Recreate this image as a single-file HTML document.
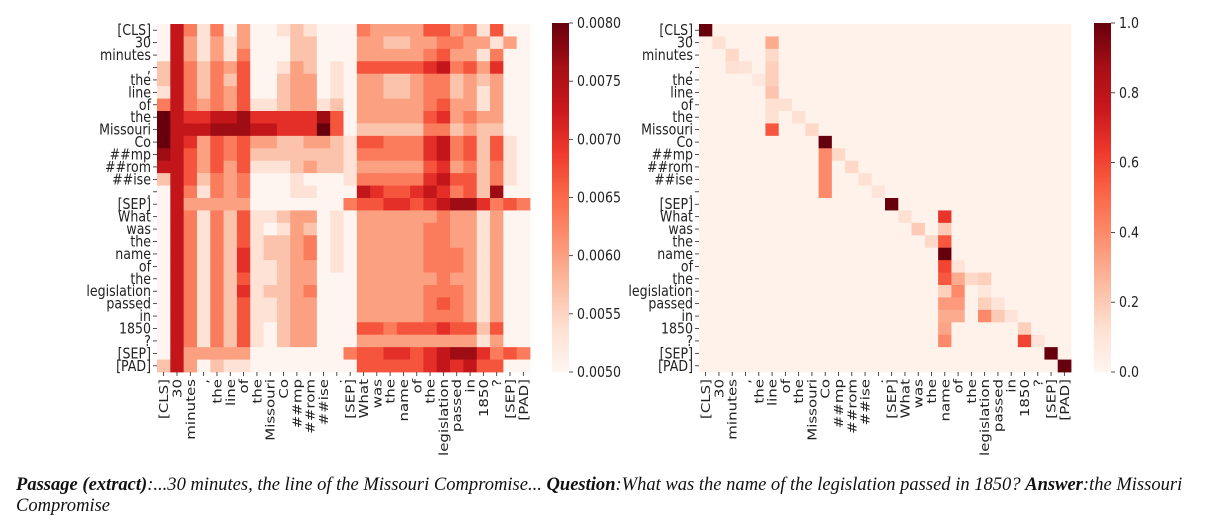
<!DOCTYPE html>
<html><head><meta charset="utf-8"><style>
body{margin:0;background:#fff;width:1211px;height:526px;overflow:hidden}
svg text{font-family:"DejaVu Sans","Liberation Sans",sans-serif;font-size:15px;fill:#222}
.cap{position:absolute;left:16px;top:474px;width:1190px;font-family:"Liberation Serif",serif;font-style:italic;font-size:18.55px;line-height:21px;color:#111}
</style></head><body>
<svg id="chart" width="1211" height="470" style="position:absolute;left:0;top:0">
<defs><linearGradient id="reds" x1="0" y1="1" x2="0" y2="0">
<stop offset="0" stop-color="#fff5f0"/><stop offset="0.125" stop-color="#fee0d2"/><stop offset="0.25" stop-color="#fcbba1"/><stop offset="0.375" stop-color="#fc9272"/><stop offset="0.5" stop-color="#fb6a4a"/><stop offset="0.625" stop-color="#ef3b2c"/><stop offset="0.75" stop-color="#cb181d"/><stop offset="0.875" stop-color="#a50f15"/><stop offset="1" stop-color="#67000d"/></linearGradient></defs>
</svg>
<div class="cap"><b>Passage (extract)</b>:...30 minutes, the line of the Missouri Compromise... <b>Question</b>:What was the name of the legislation passed in 1850? <b>Answer</b>:the Missouri Compromise</div>
<script>
const tokens=["[CLS]","30","minutes",",","the","line","of","the","Missouri","Co","##mp","##rom","##ise",".","[SEP]","What","was","the","name","of","the","legislation","passed","in","1850","?","[SEP]","[PAD]"];
// left heatmap: digit d -> 0.005 + d*0.000333
const leftRows=[
"0741403001210004333355341500",
"0731313000220003322334433130",
"0731314000220003333345331400",
"2742435001320105555567453600",
"2742425002330103322344232300",
"1742435002330103322344231300",
"4743435112331203333345331300",
"9766778666668503333356343300",
"9777888776669502222244232200",
"9763545332233215544467452510",
"8753545222222214444467452510",
"7753535111232213333356342410",
"2752434000100014444467552410",
"0741434000110007655676452800",
"0733333000000045566567886454",
"0741425112330103333334331300",
"0741425101320103333344331300",
"0741425122340103333344331300",
"0741426122340103333344431300",
"0741426112330103333344431300",
"0741425112330003333334331300",
"0741426122340003333344431300",
"0741425112330003333345431300",
"0741425112330003333344431300",
"0741425102330005545556552500",
"0741425102330003333333331300",
"0733333000000045566567886454",
"2730211000000005555567675500"];
const rightCells=[[0,0,1],[1,1,.12],[1,5,.3],[2,2,.15],[2,5,.15],[3,2,.12],[3,3,.1],[3,5,.18],[4,4,.08],[4,5,.18],[5,5,.22],[6,5,.12],[6,6,.12],[7,5,.12],[7,7,.12],[8,5,.55],[8,8,.15],[9,9,1],[10,9,.4],[10,10,.15],[11,9,.4],[11,11,.15],[12,9,.4],[12,12,.12],[13,9,.4],[13,13,.1],[14,14,1],[15,15,.12],[15,18,.65],[16,16,.2],[16,18,.2],[17,17,.15],[17,18,.55],[18,18,1],[19,18,.6],[19,19,.1],[20,18,.55],[20,19,.3],[20,20,.15],[20,21,.18],[21,18,.18],[21,19,.4],[21,21,.08],[22,18,.35],[22,19,.35],[22,21,.18],[22,22,.1],[23,18,.3],[23,19,.3],[23,21,.4],[23,22,.2],[23,23,.1],[24,18,.32],[24,24,.18],[25,18,.4],[25,24,.6],[25,25,.1],[26,26,1],[27,27,1]];
const leftTicks=["0.0050","0.0055","0.0060","0.0065","0.0070","0.0075","0.0080"];
const rightTicks=["0.0","0.2","0.4","0.6","0.8","1.0"];

const stops=[[255,245,240],[254,224,210],[252,187,161],[252,146,114],[251,106,74],[239,59,44],[203,24,29],[165,15,21],[103,0,13]];
function cmap(t){t=Math.max(0,Math.min(1,t));const p=t*8,i=Math.min(7,Math.floor(p)),f=p-i;const a=stops[i],b=stops[i+1];return `rgb(${a.map((v,k)=>Math.round(v+(b[k]-v)*f)).join(',')})`;}
const svg=document.getElementById('chart');const NS='http://www.w3.org/2000/svg';
const SX=0.84;
function mk(tag,attrs,parent){const e=document.createElementNS(NS,tag);for(const k in attrs)e.setAttribute(k,attrs[k]);(parent||svg).appendChild(e);return e;}
function heat(x0,y0,w,h,getVal,name,vmin,vmax){
  const g=mk('g',{});
  
  
  const n=tokens.length,cw=w/n,ch=h/n;
  for(let r=0;r<n;r++)for(let c=0;c<n;c++){
    const v=getVal(r,c);
    const rc=mk('rect',{x:x0+c*cw,y:y0+r*ch,width:cw+0.4,height:ch+0.4,fill:cmap((v-vmin)/(vmax-vmin))},g);
    
    
  }
  for(let i=0;i<n;i++){
    const y=y0+(i+0.5)*ch;
    mk('line',{x1:x0-4,x2:x0,y1:y,y2:y,stroke:'#222','stroke-width':0.8},g);
    const t=mk('text',{x:0,y:0,'text-anchor':'end',transform:`translate(${x0-6},${y+5}) scale(${SX},1)`},g);t.textContent=tokens[i];
    
    
    const x=x0+(i+0.5)*cw;
    mk('line',{x1:x,x2:x,y1:y0+h,y2:y0+h+4,stroke:'#222','stroke-width':0.8},g);
    const tx=mk('text',{x:0,y:0,'text-anchor':'end',transform:`translate(${x+4.5},${y0+h+7}) scale(${SX},1) rotate(-90)`},g);tx.textContent=tokens[i];
    
    
  }
}
function cbar(x,y0,w,h,ticks,vmin,vmax,name){
  const g=mk('g',{});
  
  
  mk('rect',{x:x,y:y0,width:w,height:h,fill:'url(#reds)'},g);
  ticks.forEach(s=>{const v=parseFloat(s);const y=y0+h-(v-vmin)/(vmax-vmin)*h;
    mk('line',{x1:x+w,x2:x+w+4,y1:y,y2:y,stroke:'#222','stroke-width':0.8},g);
    const t=mk('text',{x:0,y:0,transform:`translate(${x+w+8},${y+5}) scale(${SX},1)`},g);t.textContent=s;
    
    });
}
heat(157,24,373,348,(r,c)=>0.005+parseInt(leftRows[r][c])*0.0003333,'left-heatmap',0.005,0.008);
const R=tokens.map(()=>tokens.map(()=>0.02));rightCells.forEach(([r,c,v])=>R[r][c]=v);
heat(699,24,372,348,(r,c)=>R[r][c],'right-heatmap',0,1);
cbar(552,23,17,349,leftTicks,0.005,0.008,'left-colorbar');
cbar(1094,23,17,349,rightTicks,0,1,'right-colorbar');
</script>
</body></html>
